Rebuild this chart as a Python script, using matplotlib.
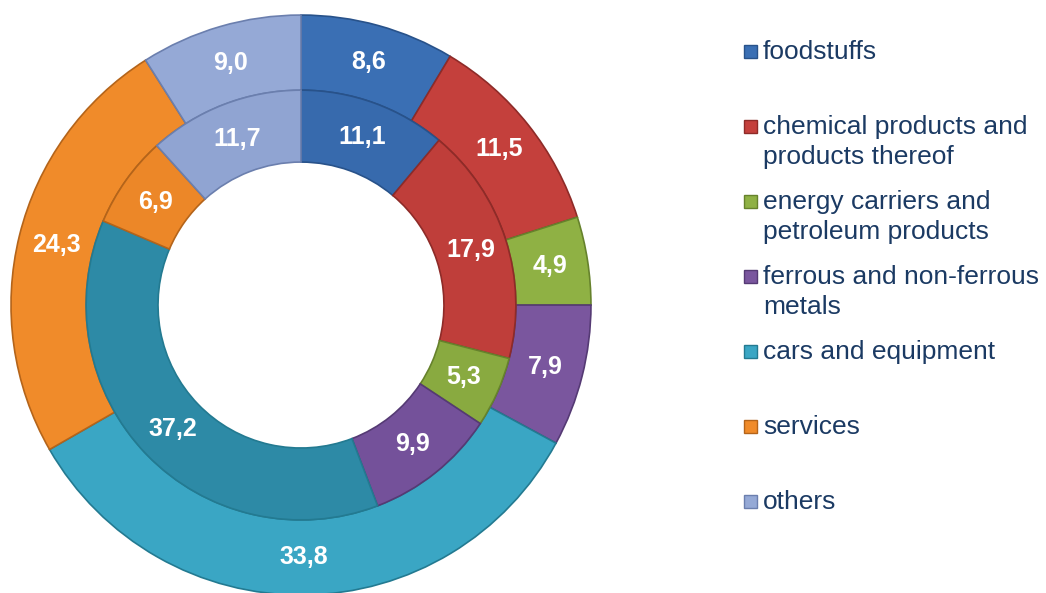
import matplotlib
matplotlib.use("Agg")
from matplotlib import pyplot as plt
from matplotlib.patches import Rectangle
import numpy as np

plt.rcParams['font.family'] = ['Liberation Sans', 'DejaVu Sans']

# categories and shares (%)
categories = ['foodstuffs', 'chemical products and\nproducts thereof',
              'energy carriers and\npetroleum products',
              'ferrous and non-ferrous\nmetals', 'cars and equipment',
              'services', 'others']
outer = [8.6, 11.5, 4.9, 7.9, 33.8, 24.3, 9.0]
inner = [11.1, 17.9, 5.3, 9.9, 37.2, 6.9, 11.7]

colors = ['#3a6fb4', '#c4403c', '#8fb144', '#7a569e', '#3aa6c4', '#f08b2a', '#95a9d6']
inner_colors = ['#376aad', '#bf3e3a', '#89aa40', '#74519a', '#2d8aa6', '#ec8728', '#90a4d2']
edges = ['#28528a', '#8e2b28', '#66822c', '#553a74', '#237a91', '#b4641a', '#6b7fae']

fig = plt.figure(figsize=(10.46, 5.93), dpi=100)
ax = fig.add_axes([0.0105, -0.0034, 0.5545, 0.978])

w_out, _ = ax.pie(outer, radius=1.0, colors=colors, startangle=90, counterclock=False,
                  wedgeprops=dict(width=0.259, linewidth=1.2))
w_in, _ = ax.pie(inner, radius=0.741, colors=inner_colors, startangle=90, counterclock=False,
                 wedgeprops=dict(width=0.248, linewidth=1.2))
for wl in (w_out, w_in):
    for w, ec in zip(wl, edges):
        w.set_edgecolor(ec)

def put_labels(vals, rad):
    start = 90.0
    for v in vals:
        mid = np.deg2rad(start - v * 3.6 / 2)
        ax.text(rad * np.cos(mid), rad * np.sin(mid), ('%.1f' % v).replace('.', ','),
                ha='center', va='center', color='white', fontsize=18, fontweight='bold')
        start -= v * 3.6

put_labels(outer, 0.87)
put_labels(inner, 0.615)

ax.set_xlim(-1, 1)
ax.set_ylim(-1, 1)
ax.set_aspect('equal')
ax.axis('off')

# legend drawn by hand
W, H = 1046, 593
for i, (lab, c, ec) in enumerate(zip(categories, colors, edges)):
    y = 51 + i * 75
    fig.patches.append(Rectangle((744 / W, 1 - (y + 6.5) / H), 13 / W, 13 / H,
                                 transform=fig.transFigure, facecolor=c,
                                 edgecolor=ec, linewidth=1))
    fig.text(763 / W, 1 - (y - 11) / H, lab, ha='left', va='top', fontsize=19,
             color='#1b3a63', linespacing=1.3)

fig.savefig('out.png', dpi=100)
